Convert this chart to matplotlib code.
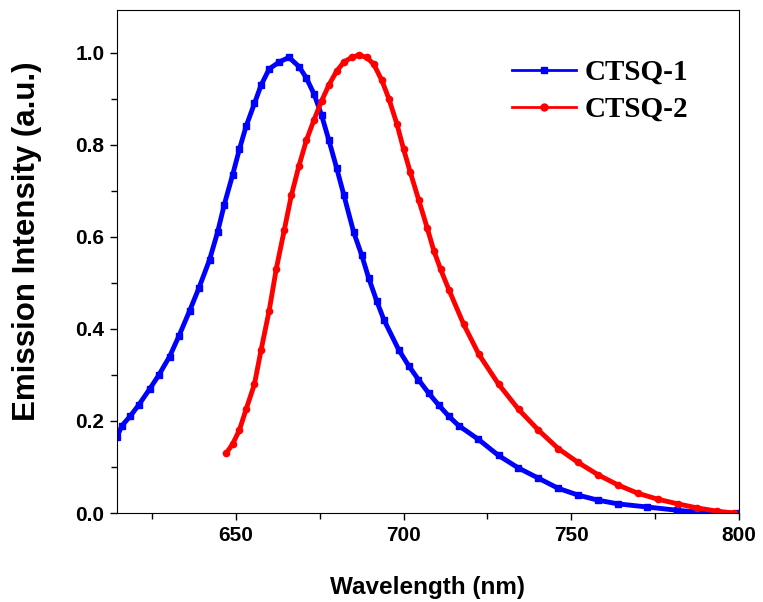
import matplotlib
matplotlib.use('Agg')
import matplotlib.pyplot as plt
from matplotlib.ticker import MultipleLocator

# CTSQ-1 emission spectrum
wl_1 = [614.5, 616.0, 618.4, 621.0, 624.3, 627.0, 630.2, 633.0, 636.2, 639.0,
        642.1, 644.5, 646.5, 649.0, 651.0, 653.0, 655.5, 657.5, 659.9, 662.9,
        665.8, 668.8, 671.0, 673.3, 675.5, 677.7, 680.0, 682.2, 685.1, 687.5,
        689.6, 692.0, 694.1, 698.5, 701.5, 704.4, 707.5, 710.4, 713.5, 716.4,
        722.3, 728.3, 734.2, 740.1, 746.0, 752.0, 757.9, 763.8, 772.7, 781.6,
        787.6, 793.5, 800.0]
int_1 = [0.165, 0.19, 0.21, 0.235, 0.27, 0.30, 0.34, 0.385, 0.44, 0.49,
         0.55, 0.61, 0.67, 0.735, 0.79, 0.84, 0.89, 0.93, 0.965, 0.98,
         0.99, 0.97, 0.945, 0.91, 0.865, 0.81, 0.75, 0.69, 0.61, 0.56,
         0.51, 0.46, 0.42, 0.355, 0.32, 0.29, 0.26, 0.235, 0.21, 0.19,
         0.16, 0.125, 0.098, 0.076, 0.054, 0.039, 0.028, 0.02, 0.013, 0.006,
         0.002, 0.0, 0.0]

# CTSQ-2 emission spectrum
wl_2 = [647.1, 649.0, 651.0, 653.0, 655.5, 657.5, 659.9, 662.0, 664.4, 666.5,
        668.8, 671.0, 673.3, 675.5, 677.7, 680.0, 682.2, 684.5, 686.6, 689.0,
        691.1, 693.5, 695.6, 698.0, 700.0, 702.0, 704.5, 707.0, 709.0, 711.0,
        713.5, 717.9, 722.4, 728.3, 734.3, 740.2, 746.1, 752.0, 758.0, 763.9,
        769.8, 775.8, 781.7, 787.6, 793.5, 798.6]
int_2 = [0.13, 0.15, 0.18, 0.225, 0.28, 0.355, 0.44, 0.53, 0.615, 0.69,
         0.755, 0.81, 0.855, 0.895, 0.93, 0.96, 0.98, 0.99, 0.995, 0.99,
         0.975, 0.94, 0.90, 0.845, 0.79, 0.74, 0.68, 0.62, 0.57, 0.53,
         0.485, 0.41, 0.345, 0.28, 0.225, 0.18, 0.14, 0.11, 0.083, 0.061,
         0.043, 0.03, 0.02, 0.011, 0.004, 0.0]

fig = plt.figure(figsize=(7.63, 6.02), dpi=100)
ax = fig.add_axes([0.1533, 0.1478, 0.8152, 0.8356])

ax.plot(wl_1, int_1, color='#0000ff', lw=3.5, marker='s', ms=4.5, label='CTSQ-1')
ax.plot(wl_2, int_2, color='#ff0000', lw=3.5, marker='o', ms=4.5, label='CTSQ-2')

ax.set_xlim(614.5, 800)
ax.set_ylim(0, 1.093)
ax.xaxis.set_major_locator(MultipleLocator(50))
ax.xaxis.set_minor_locator(MultipleLocator(25))
ax.yaxis.set_minor_locator(MultipleLocator(0.1))
ax.set_yticks([0.0, 0.2, 0.4, 0.6, 0.8, 1.0])
ax.tick_params(which='both', direction='out', top=False, right=False, pad=4)
ax.tick_params(which='major', length=5, width=1)
ax.tick_params(which='minor', length=4, width=1)
for lab in ax.get_xticklabels() + ax.get_yticklabels():
    lab.set_fontfamily('Liberation Sans')
    lab.set_fontweight('bold')
    lab.set_fontsize(15)

ax.set_xlabel('Wavelength (nm)', fontfamily='Liberation Sans', fontweight='bold',
              fontsize=17.5, labelpad=23)
ax.set_ylabel('Emission Intensity (a.u.)', fontfamily='Liberation Sans',
              fontweight='bold', fontsize=22.5, labelpad=24)
ax.yaxis.label.set_y(0.541)

leg = ax.legend(loc='upper right', bbox_to_anchor=(0.937, 0.926), borderaxespad=0,
                frameon=False, handlelength=2.2, handletextpad=0.3, labelspacing=0.35,
                prop={'family': 'Liberation Serif', 'weight': 'bold', 'size': 21})
for line in leg.get_lines():
    line.set_linewidth(2)
    line.set_markersize(5)

fig.savefig('out.png', dpi=100)
